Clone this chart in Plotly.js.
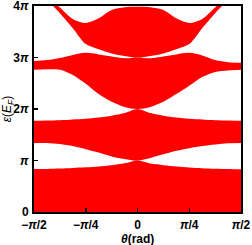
<!DOCTYPE html>
<html>
<head>
<meta charset="utf-8">
<script src="https://cdn.plot.ly/plotly-3.0.1.min.js"></script>
<style>html,body{margin:0;padding:0;background:#fff;}#chart{width:252px;height:245px;}</style>
</head>
<body>
<div id="chart"></div>
<script>
// theta in units of pi, energies in units of pi (E_F)
var theta = [-0.5,-0.4375,-0.375,-0.3125,-0.25,-0.1875,-0.125,-0.0625,0,0.0625,0.125,0.1875,0.25,0.3125,0.375,0.4375,0.5];
var band1Top = [0.835,0.837,0.845,0.855,0.868,0.885,0.91,0.945,1.0,0.94,0.91,0.885,0.865,0.85,0.84,0.835,0.83];
var band2Bottom = [1.34,1.34,1.32,1.28,1.22,1.155,1.08,1.03,1.0,1.05,1.12,1.19,1.24,1.28,1.31,1.335,1.34];
var band2Top = [1.77,1.775,1.78,1.795,1.81,1.835,1.87,1.92,2.0,1.92,1.87,1.835,1.81,1.795,1.78,1.775,1.77];
var band3Bottom = [2.76,2.77,2.76,2.66,2.49,2.29,2.14,2.04,2.0,2.04,2.14,2.29,2.45,2.62,2.72,2.75,2.76];
var band3Top = [2.93,2.95,2.99,3.05,3.09,3.06,3.02,2.985,3.0,2.985,3.02,3.06,3.09,3.04,2.95,2.91,2.90];
var band4Bottom = [4.35,4.12,3.86,3.57,3.26,3.16,3.08,3.03,3.0,3.03,3.08,3.16,3.26,3.57,3.86,4.12,4.35];
var band4Top = [4.5,4.22,3.97,3.75,3.67,3.76,3.92,3.975,3.985,3.975,3.92,3.76,3.67,3.75,3.97,4.22,4.5];
var zeros = theta.map(function(){return 0;});

var red = '#ff0000';
var bands = [[zeros, band1Top],[band2Bottom, band2Top],[band3Bottom, band3Top],[band4Bottom, band4Top]];
var traces = [];
bands.forEach(function(b){
  traces.push({x: theta, y: b[0], mode: 'lines', line: {width: 0, color: red, shape: 'spline', smoothing: 0.8}, hoverinfo: 'skip', showlegend: false});
  traces.push({x: theta, y: b[1], mode: 'lines', fill: 'tonexty', fillcolor: red, line: {width: 0, color: red, shape: 'spline', smoothing: 0.8}, hoverinfo: 'skip', showlegend: false});
});

var fontB = {family: 'Liberation Sans, Arial, sans-serif', size: 12, color: '#000'};
var layout = {
  width: 252, height: 245,
  margin: {l: 34, r: 11, t: 6, b: 33, pad: 0},
  paper_bgcolor: '#fff', plot_bgcolor: '#fff',
  showlegend: false,
  xaxis: {
    range: [-0.5, 0.5], showgrid: false, zeroline: false,
    showline: true, mirror: true, linecolor: '#000', linewidth: 2,
    ticks: 'inside', ticklen: 4, tickwidth: 1.5, tickcolor: '#000',
    tickvals: [-0.5,-0.25,0,0.25,0.5],
    ticktext: ['<b>\u2212<i>\u03c0</i>/2</b>','<b>\u2212<i>\u03c0</i>/4</b>','<b>0</b>','<b><i>\u03c0</i>/4</b>','<b><i>\u03c0</i>/2</b>'],
    tickfont: fontB, ticklabeloverflow: 'allow', ticklabelstandoff: 1
  },
  yaxis: {
    range: [0, 4], showgrid: false, zeroline: false,
    showline: true, mirror: true, linecolor: '#000', linewidth: 2,
    ticks: 'inside', ticklen: 4, tickwidth: 1.5, tickcolor: '#000',
    tickvals: [0,1,2,3,4],
    ticktext: ['<b>0</b>','<b><i>\u03c0</i></b>','<b>2<i>\u03c0</i></b>','<b>3<i>\u03c0</i></b>','<b>4<i>\u03c0</i></b>'],
    tickfont: fontB, ticklabeloverflow: 'allow', ticklabelstandoff: 1,
    title: {text: '<i>\u03b5</i>(<i>E<sub>F</sub></i>)', font: {family: 'Liberation Sans, Arial, sans-serif', size: 12, color: '#000'}, standoff: 2}
  },
  annotations: [{
    text: '<b><i>\u03b8</i>(rad)</b>', font: fontB, showarrow: false,
    xref: 'paper', yref: 'paper', x: 0.5, y: 0, xanchor: 'center', yanchor: 'top', yshift: -18
  }]
};
Plotly.newPlot('chart', traces, layout, {staticPlot: true, displayModeBar: false});
</script>
</body>
</html>
